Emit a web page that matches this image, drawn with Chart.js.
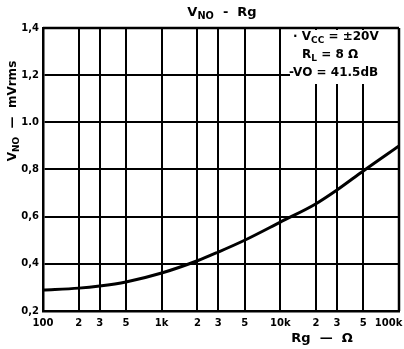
<!DOCTYPE html>
<html>
<head>
<meta charset="utf-8">
<script src="https://cdn.jsdelivr.net/npm/chart.js@4"></script>
<style>
  html, body { margin: 0; padding: 0; background: #fff; }
  #wrap { width: 404px; height: 349px; }
</style>
</head>
<body>
<div id="wrap"><canvas id="noiseChart" width="404" height="349"></canvas></div>
<script>
// Rg values (ohm) and output noise V_NO (mVrms)
const rgValues = [100, 200, 300, 500, 1000, 2000, 3000, 5000, 10000, 20000, 30000, 50000, 100000];
const vnoValues = [0.289, 0.297, 0.306, 0.323, 0.361, 0.413, 0.45, 0.50, 0.577, 0.655, 0.713, 0.794, 0.90];

// Axis ticks
const xTicks = [100, 200, 300, 500, 1000, 2000, 3000, 5000, 10000, 20000, 30000, 50000, 100000];
const xTickLabels = ['100', '2', '3', '5', '1k', '2', '3', '5', '10k', '2', '3', '5', '100k'];
const yTicks = [0.2, 0.4, 0.6, 0.8, 1.0, 1.2, 1.4];
const yTickLabels = ['0,2', '0,4', '0,6', '0,8', '1.0', '1,2', '1,4'];

// draw text with a subscript part: parts = [[text, isSub], ...]
function drawParts(ctx, parts, x, y, size, align) {
    const widths = parts.map(p => {
        ctx.font = 'bold ' + (p[1] ? size * 0.75 : size) + 'px "DejaVu Sans", sans-serif';
        return ctx.measureText(p[0]).width;
    });
    const total = widths.reduce((a, b) => a + b, 0);
    let cx = align === 'center' ? x - total / 2 : x;
    parts.forEach((p, i) => {
        ctx.font = 'bold ' + (p[1] ? size * 0.75 : size) + 'px "DejaVu Sans", sans-serif';
        ctx.fillText(p[0], cx, p[1] ? y + size * 0.3 : y);
        cx += widths[i];
    });
}

const labelsPlugin = {
    id: 'labels',
    afterDraw(chart) {
        const ctx = chart.ctx;
        const area = chart.chartArea;
        ctx.save();
        ctx.fillStyle = '#000';
        ctx.textBaseline = 'middle';
        ctx.textAlign = 'left';

        // title
        drawParts(ctx, [['V', false], ['NO', true], ['  -  Rg', false]], 222, 13, 13, 'center');

        // x axis title
        drawParts(ctx, [['Rg  —  Ω', false]], 322, 339, 13, 'center');

        // y axis title (rotated)
        ctx.save();
        ctx.translate(13, 111);
        ctx.rotate(-Math.PI / 2);
        drawParts(ctx, [['V', false], ['NO', true], ['  —  mVrms', false]], 0, 0, 12, 'center');
        ctx.restore();

        // conditions box
        ctx.fillStyle = '#fff';
        ctx.fillRect(290, area.top + 2, area.right - area.left, 54);
        ctx.fillStyle = '#000';
        drawParts(ctx, [['· V', false], ['CC', true], [' = ±20V', false]], 293, 37, 12, 'left');
        drawParts(ctx, [['R', false], ['L', true], [' = 8 Ω', false]], 302, 55, 12, 'left');
        drawParts(ctx, [['-VO = 41.5dB', false]], 289, 73, 12, 'left');
        ctx.restore();

        // redraw right border over the box
        ctx.save();
        ctx.strokeStyle = '#000';
        ctx.lineWidth = 2.5;
        ctx.beginPath();
        ctx.moveTo(area.right, area.top);
        ctx.lineTo(area.right, area.bottom);
        ctx.moveTo(area.left, area.top);
        ctx.lineTo(area.right, area.top);
        ctx.stroke();
        ctx.restore();
    }
};

new Chart(document.getElementById('noiseChart'), {
    type: 'line',
    data: {
        datasets: [{
            data: rgValues.map((r, i) => ({ x: r, y: vnoValues[i] })),
            borderColor: '#000',
            borderWidth: 3,
            pointRadius: 0,
            cubicInterpolationMode: 'monotone',
            fill: false
        }]
    },
    options: {
        responsive: false,
        animation: false,
        layout: { padding: { top: 28, right: 5, left: 0, bottom: 0 } },
        plugins: {
            legend: { display: false },
            tooltip: { enabled: false }
        },
        scales: {
            x: {
                type: 'logarithmic',
                min: 100,
                max: 100000,
                afterBuildTicks(scale) {
                    scale.ticks = xTicks.map(v => ({ value: v }));
                },
                afterFit(scale) {
                    scale.height = 38;
                    scale.paddingRight = 0;
                    scale.paddingLeft = 0;
                },
                grid: { color: '#000', lineWidth: 2, drawTicks: false },
                border: { color: '#000', width: 2.5 },
                ticks: {
                    autoSkip: false,
                    maxRotation: 0,
                    padding: 6,
                    color: '#000',
                    font: { family: '"DejaVu Sans", sans-serif', size: 10, weight: 'bold' },
                    // last label pulled left so it stays inside the canvas
                    callback: (v, i) => i === xTickLabels.length - 1 ? xTickLabels[i] + '      ' : xTickLabels[i]
                }
            },
            y: {
                min: 0.2,
                max: 1.4,
                afterBuildTicks(scale) {
                    scale.ticks = yTicks.map(v => ({ value: v }));
                },
                afterFit(scale) {
                    scale.width = 43;
                    scale.paddingTop = 0;
                    scale.paddingBottom = 0;
                },
                grid: { color: '#000', lineWidth: 2, drawTicks: false },
                border: { color: '#000', width: 2.5 },
                ticks: {
                    padding: 4,
                    color: '#000',
                    font: { family: '"DejaVu Sans", sans-serif', size: 10, weight: 'bold' },
                    callback: (v, i) => yTickLabels[i]
                }
            }
        }
    },
    plugins: [labelsPlugin]
});
</script>
</body>
</html>
